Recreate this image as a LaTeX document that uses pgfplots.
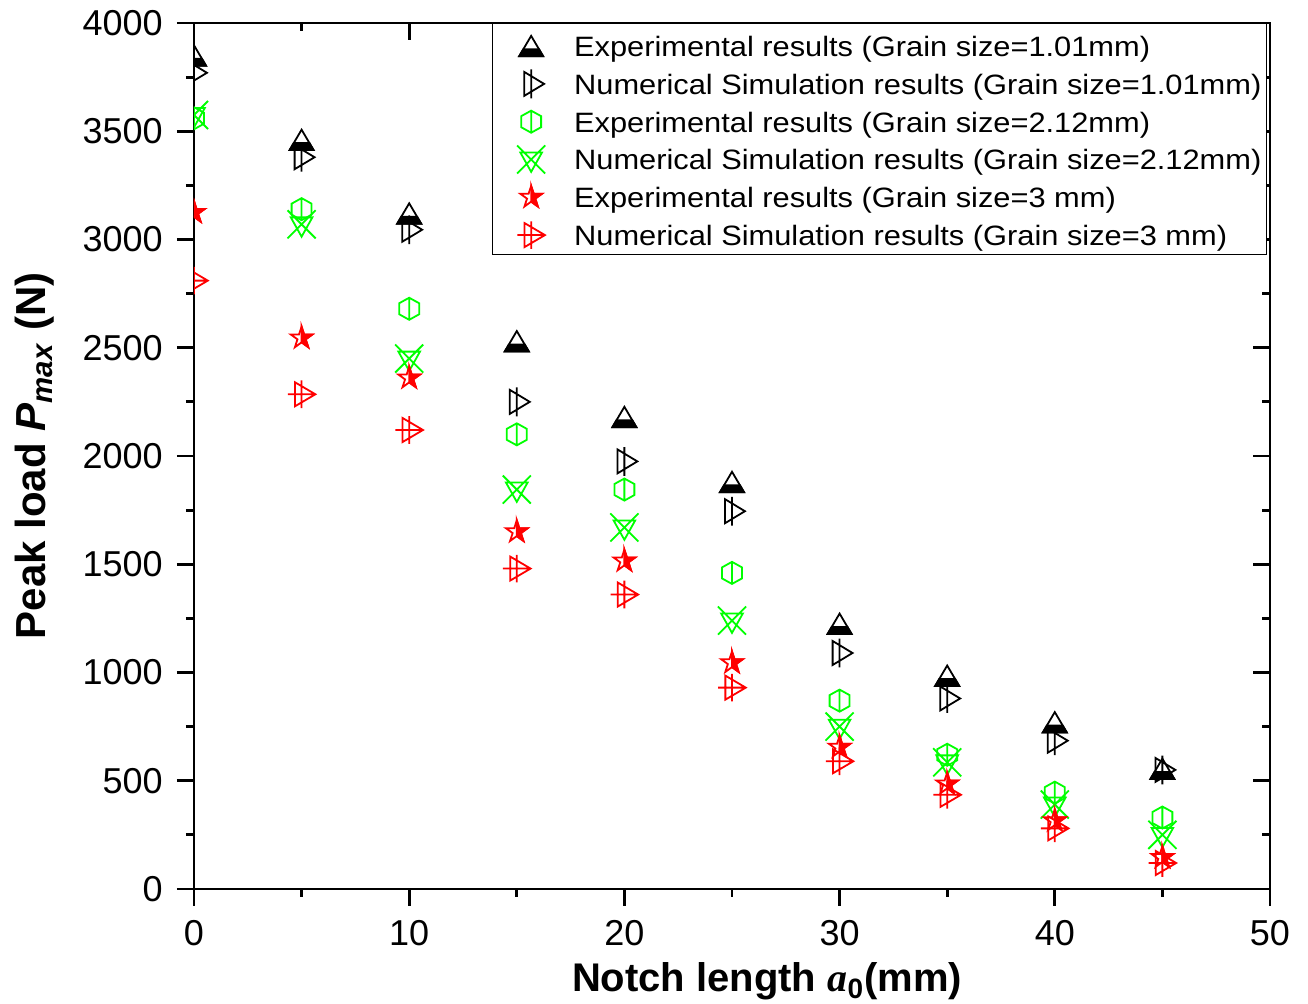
\documentclass[border=0pt]{standalone}
\usepackage{pgfplots}
\pgfplotsset{compat=1.18}
\usepackage{fontspec}
\setmainfont{Liberation Sans}
\newfontfamily\legfont{Liberation Sans}[FakeStretch=1.1]
\newfontfamily\serifit{Liberation Serif}
\definecolor{mygreen}{RGB}{0,255,0}
\definecolor{myred}{RGB}{255,0,0}

\pgfdeclareplotmark{halftri}{%
 \pgfpathmoveto{\pgfqpoint{0pt}{0.85\pgfplotmarksize}}%
 \pgfpathlineto{\pgfqpoint{\pgfplotmarksize}{-0.85\pgfplotmarksize}}%
 \pgfpathlineto{\pgfqpoint{-\pgfplotmarksize}{-0.85\pgfplotmarksize}}%
 \pgfpathclose\pgfusepathqstroke
 \pgfpathmoveto{\pgfqpoint{-\pgfplotmarksize}{-0.85\pgfplotmarksize}}%
 \pgfpathlineto{\pgfqpoint{\pgfplotmarksize}{-0.85\pgfplotmarksize}}%
 \pgfpathlineto{\pgfqpoint{0.66\pgfplotmarksize}{-0.27\pgfplotmarksize}}%
 \pgfpathlineto{\pgfqpoint{-0.66\pgfplotmarksize}{-0.27\pgfplotmarksize}}%
 \pgfpathclose\pgfusepathqfillstroke}

\pgfdeclareplotmark{triline}{%
 \pgfpathmoveto{\pgfqpoint{-0.58\pgfplotmarksize}{\pgfplotmarksize}}%
 \pgfpathlineto{\pgfqpoint{1.08\pgfplotmarksize}{0pt}}%
 \pgfpathlineto{\pgfqpoint{-0.58\pgfplotmarksize}{-\pgfplotmarksize}}%
 \pgfpathclose
 \pgfpathmoveto{\pgfqpoint{0pt}{1.2\pgfplotmarksize}}%
 \pgfpathlineto{\pgfqpoint{0pt}{-1.2\pgfplotmarksize}}%
 \pgfusepathqstroke}

\pgfdeclareplotmark{hexline}{%
 \pgfpathmoveto{\pgfqpoint{0pt}{0.92\pgfplotmarksize}}%
 \pgfpathlineto{\pgfqpoint{0.83\pgfplotmarksize}{0.46\pgfplotmarksize}}%
 \pgfpathlineto{\pgfqpoint{0.83\pgfplotmarksize}{-0.46\pgfplotmarksize}}%
 \pgfpathlineto{\pgfqpoint{0pt}{-0.92\pgfplotmarksize}}%
 \pgfpathlineto{\pgfqpoint{-0.83\pgfplotmarksize}{-0.46\pgfplotmarksize}}%
 \pgfpathlineto{\pgfqpoint{-0.83\pgfplotmarksize}{0.46\pgfplotmarksize}}%
 \pgfpathclose
 \pgfpathmoveto{\pgfqpoint{0pt}{0.92\pgfplotmarksize}}%
 \pgfpathlineto{\pgfqpoint{0pt}{-0.92\pgfplotmarksize}}%
 \pgfusepathqstroke}

\pgfdeclareplotmark{tricross}{%
 \pgfpathmoveto{\pgfqpoint{-0.9\pgfplotmarksize}{0.58\pgfplotmarksize}}%
 \pgfpathlineto{\pgfqpoint{0.9\pgfplotmarksize}{0.58\pgfplotmarksize}}%
 \pgfpathlineto{\pgfqpoint{0pt}{-1.03\pgfplotmarksize}}%
 \pgfpathclose
 \pgfpathmoveto{\pgfqpoint{-1.17\pgfplotmarksize}{1.17\pgfplotmarksize}}%
 \pgfpathlineto{\pgfqpoint{1.17\pgfplotmarksize}{-1.17\pgfplotmarksize}}%
 \pgfpathmoveto{\pgfqpoint{1.17\pgfplotmarksize}{1.17\pgfplotmarksize}}%
 \pgfpathlineto{\pgfqpoint{-1.17\pgfplotmarksize}{-1.17\pgfplotmarksize}}%
 \pgfusepathqstroke}

\pgfdeclareplotmark{halfstar}{%
 \pgfpathmoveto{\pgfqpoint{0pt}{0.95\pgfplotmarksize}}%
 \pgfpathlineto{\pgfqpoint{0.2133\pgfplotmarksize}{0.2936\pgfplotmarksize}}%
 \pgfpathlineto{\pgfqpoint{0.9035\pgfplotmarksize}{0.2936\pgfplotmarksize}}%
 \pgfpathlineto{\pgfqpoint{0.3451\pgfplotmarksize}{-0.1121\pgfplotmarksize}}%
 \pgfpathlineto{\pgfqpoint{0.5584\pgfplotmarksize}{-0.7686\pgfplotmarksize}}%
 \pgfpathlineto{\pgfqpoint{0pt}{-0.3629\pgfplotmarksize}}%
 \pgfpathlineto{\pgfqpoint{-0.5584\pgfplotmarksize}{-0.7686\pgfplotmarksize}}%
 \pgfpathlineto{\pgfqpoint{-0.3451\pgfplotmarksize}{-0.1121\pgfplotmarksize}}%
 \pgfpathlineto{\pgfqpoint{-0.9035\pgfplotmarksize}{0.2936\pgfplotmarksize}}%
 \pgfpathlineto{\pgfqpoint{-0.2133\pgfplotmarksize}{0.2936\pgfplotmarksize}}%
 \pgfpathclose\pgfusepathqstroke
 \pgfpathmoveto{\pgfqpoint{0pt}{0.95\pgfplotmarksize}}%
 \pgfpathlineto{\pgfqpoint{0.2133\pgfplotmarksize}{0.2936\pgfplotmarksize}}%
 \pgfpathlineto{\pgfqpoint{0.9035\pgfplotmarksize}{0.2936\pgfplotmarksize}}%
 \pgfpathlineto{\pgfqpoint{0.3451\pgfplotmarksize}{-0.1121\pgfplotmarksize}}%
 \pgfpathlineto{\pgfqpoint{0.5584\pgfplotmarksize}{-0.7686\pgfplotmarksize}}%
 \pgfpathlineto{\pgfqpoint{0pt}{-0.3629\pgfplotmarksize}}%
 \pgfpathclose\pgfusepathqfillstroke}

\pgfdeclareplotmark{triplus}{%
 \pgfpathmoveto{\pgfqpoint{-0.55\pgfplotmarksize}{\pgfplotmarksize}}%
 \pgfpathlineto{\pgfqpoint{1.15\pgfplotmarksize}{0pt}}%
 \pgfpathlineto{\pgfqpoint{-0.55\pgfplotmarksize}{-\pgfplotmarksize}}%
 \pgfpathclose
 \pgfpathmoveto{\pgfqpoint{0pt}{1.15\pgfplotmarksize}}%
 \pgfpathlineto{\pgfqpoint{0pt}{-1.15\pgfplotmarksize}}%
 \pgfpathmoveto{\pgfqpoint{-1.15\pgfplotmarksize}{0pt}}%
 \pgfpathlineto{\pgfqpoint{1.15\pgfplotmarksize}{0pt}}%
 \pgfusepathqstroke}

\pgfplotsset{
 common/.style={
  width=538pt, height=433pt, scale only axis,
  xmin=0, xmax=50, ymin=0, ymax=4000,
  xtick={0,10,...,50}, ytick={0,500,...,4000},
  minor x tick num=1, minor y tick num=1,
  major tick length=8.5pt, minor tick length=4pt,
  axis line style={line width=1.4pt},
  tick style={line width=1.4pt, black},
 },
}

\begin{document}
\begin{tikzpicture}
\useasboundingbox (-97pt,-57.5pt) rectangle (557pt,444.5pt);
\begin{axis}[common, xtick pos=right, ytick pos=right, tick align=inside,
  xticklabels={}, yticklabels={}]
\end{axis}
\begin{axis}[common, xtick pos=left, ytick pos=left, tick align=outside,
  clip marker paths=true,
  /pgf/number format/assume math mode=true,
  /pgf/number format/1000 sep={},
  tick label style={font=\fontsize{18}{18}\selectfont},
  xticklabel style={inner sep=0pt, yshift=-7pt},
  yticklabel style={inner sep=0pt, xshift=-7pt},
  xlabel={\textbf{Notch length {\serifit\bfseries\itshape a}\textsubscript{0}(mm)}},
  ylabel={\textbf{Peak load \textit{P}\textsubscript{\textit{max}} (N)}},
  xlabel style={font=\fontsize{20}{20}\selectfont, at={(axis description cs:0.5325,-0.1189)}, anchor=base},
  ylabel style={font=\fontsize{21}{21}\selectfont, at={(axis description cs:-0.1478,0.5)}, anchor=center},
  legend style={at={(1,1)}, anchor=north east, xshift=-1.5pt,
    draw=black, line width=0.6pt, fill=white,
    font=\legfont\fontsize{14}{16}\selectfont,
    inner xsep=2.5pt, inner ysep=4pt, row sep=5.9pt, column sep=14.5pt,
    nodes={inner sep=0pt, text height=12.5pt, text depth=0.5pt}},
  legend cell align=left,
  legend image code/.code={%
    \path[draw=none, fill=none] (-17pt,-5pt) rectangle (7pt,5pt);
    \pgfinterruptboundingbox
    \draw[#1] plot coordinates {(0pt,-0.75pt)};
    \endpgfinterruptboundingbox},
]
\addplot[only marks, mark=halftri, mark size=6pt, black, mark options={fill=black, line width=0.9pt}] coordinates
 {(0,3850)(5,3460)(10,3120)(15,2530)(20,2180)(25,1880)(30,1225)(35,985)(40,770)(45,555)};
\addlegendentry{Experimental results (Grain size=1.01mm)}
\addplot[only marks, mark=triline, mark size=6pt, black, mark options={line width=0.9pt}] coordinates
 {(0,3770)(5,3380)(10,3045)(15,2250)(20,1975)(25,1745)(30,1090)(35,880)(40,685)(45,550)};
\addlegendentry{Numerical Simulation results (Grain size=1.01mm)}
\addplot[only marks, mark=hexline, mark size=6pt, mygreen, mark options={line width=0.9pt}] coordinates
 {(0,3560)(5,3140)(10,2680)(15,2100)(20,1845)(25,1460)(30,870)(35,620)(40,445)(45,330)};
\addlegendentry{Experimental results (Grain size=2.12mm)}
\addplot[only marks, mark=tricross, mark size=6pt, mygreen, mark options={line width=0.9pt}] coordinates
 {(0,3575)(5,3070)(10,2450)(15,1845)(20,1670)(25,1240)(30,750)(35,585)(40,390)(45,250)};
\addlegendentry{Numerical Simulation results (Grain size=2.12mm)}
\addplot[only marks, mark=halfstar, mark size=6pt, myred, mark options={fill=myred, line width=0.9pt}] coordinates
 {(0,3125)(5,2545)(10,2360)(15,1650)(20,1515)(25,1045)(30,655)(35,485)(40,315)(45,145)};
\addlegendentry{Experimental results (Grain size=3 mm)}
\addplot[only marks, mark=triplus, mark size=6pt, myred, mark options={line width=0.9pt}] coordinates
 {(0,2810)(5,2285)(10,2120)(15,1480)(20,1360)(25,930)(30,590)(35,435)(40,280)(45,120)};
\addlegendentry{Numerical Simulation results (Grain size=3 mm)}
\end{axis}
\end{tikzpicture}
\end{document}
